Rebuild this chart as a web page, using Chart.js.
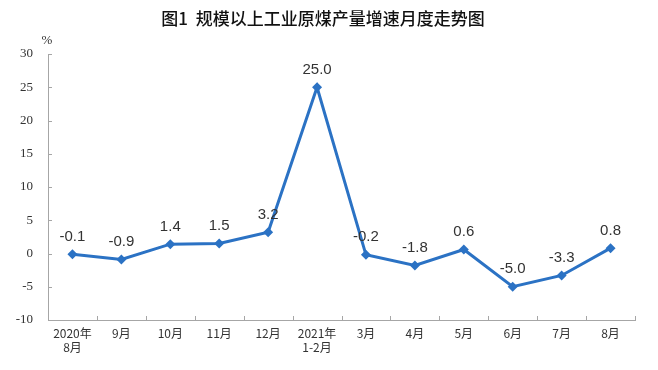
<!DOCTYPE html>
<html><head><meta charset="utf-8">
<script src="https://cdn.jsdelivr.net/npm/chart.js@4/dist/chart.umd.min.js"></script>
<style>html,body{margin:0;padding:0;background:#fff;}#wrap{width:658px;height:370px;position:relative;}</style>
</head><body><div id="wrap"><canvas id="c" width="658" height="370"></canvas></div>
<script>
const titleText = '图1  规模以上工业原煤产量增速月度走势图';
const unitLabel = '%';
const categories = [['2020年','8月'],'9月','10月','11月','12月',['2021年','1-2月'],'3月','4月','5月','6月','7月','8月'];
const growth = [-0.1, -0.9, 1.4, 1.5, 3.2, 25.0, -0.2, -1.8, 0.6, -5.0, -3.3, 0.8];
const yTicks = [-10, -5, 0, 5, 10, 15, 20, 25, 30];

const lineColor = '#2b72c4';
const axisColor = '#a6a6a6';

const overlay = {
  id: 'overlay',
  afterDraw(chart) {
    const ctx = chart.ctx;
    const x = chart.scales.x, y = chart.scales.y;
    ctx.save();
    // title
    ctx.fillStyle = '#111';
    ctx.font = '500 17px "Noto Sans CJK SC"';
    ctx.textAlign = 'center';
    ctx.textBaseline = 'middle';
    ctx.fillText(titleText, 323, 19);
    // unit
    ctx.font = '13px "Liberation Serif"';
    ctx.fillStyle = '#333';
    ctx.fillText(unitLabel, 47, 41);
    // inward ticks
    ctx.strokeStyle = axisColor;
    ctx.lineWidth = 1;
    const n = categories.length;
    const step = x.getPixelForValue(1) - x.getPixelForValue(0);
    for (let i = 0; i <= n; i++) {
      const px = Math.round(x.getPixelForValue(0) - step / 2 + i * step) + 0.5;
      ctx.beginPath();
      ctx.moveTo(px, y.bottom);
      ctx.lineTo(px, y.bottom - 4);
      ctx.stroke();
    }
    yTicks.forEach(v => {
      const py = Math.round(y.getPixelForValue(v)) + 0.5;
      ctx.beginPath();
      ctx.moveTo(x.left, py);
      ctx.lineTo(x.left + 4, py);
      ctx.stroke();
    });
    // data labels
    const meta = chart.getDatasetMeta(0);
    ctx.font = '15px "Liberation Sans"';
    ctx.fillStyle = '#333';
    ctx.textAlign = 'center';
    ctx.textBaseline = 'bottom';
    meta.data.forEach((pt, i) => {
      ctx.fillText(growth[i].toFixed(1), pt.x, pt.y - 10);
    });
    ctx.restore();
  }
};

new Chart(document.getElementById('c'), {
  type: 'line',
  data: {
    labels: categories,
    datasets: [{
      data: growth,
      borderColor: lineColor,
      backgroundColor: lineColor,
      borderWidth: 3,
      pointStyle: 'rectRot',
      pointRadius: 5,
      pointBorderWidth: 0,
      tension: 0,
      clip: false
    }]
  },
  options: {
    responsive: false,
    animation: false,
    devicePixelRatio: 1,
    layout: { padding: { top: 54, right: 23, left: 0, bottom: 0 } },
    plugins: { legend: { display: false }, title: { display: false }, tooltip: { enabled: false } },
    scales: {
      x: {
        type: 'category',
        offset: true,
        grid: { display: true, drawOnChartArea: false, drawTicks: false, offset: true, color: 'rgba(0,0,0,0)' },
        border: { display: true, color: axisColor, width: 1 },
        ticks: {
          color: '#333',
          font: { family: '"Noto Sans CJK SC", "Liberation Sans"', size: 12 },
          padding: 6,
          maxRotation: 0,
          autoSkip: false
        },
        afterFit(s) { s.height = 50; }
      },
      y: {
        min: -10, max: 30,
        afterBuildTicks(s) { s.ticks = yTicks.map(v => ({ value: v })); },
        grid: { display: true, drawOnChartArea: false, drawTicks: false, color: 'rgba(0,0,0,0)' },
        border: { display: true, color: axisColor, width: 1 },
        ticks: {
          color: '#333',
          font: { family: '"Liberation Serif"', size: 13 },
          padding: 15
        },
        afterFit(s) { s.width = 48; }
      }
    }
  },
  plugins: [overlay]
});
</script></body></html>
